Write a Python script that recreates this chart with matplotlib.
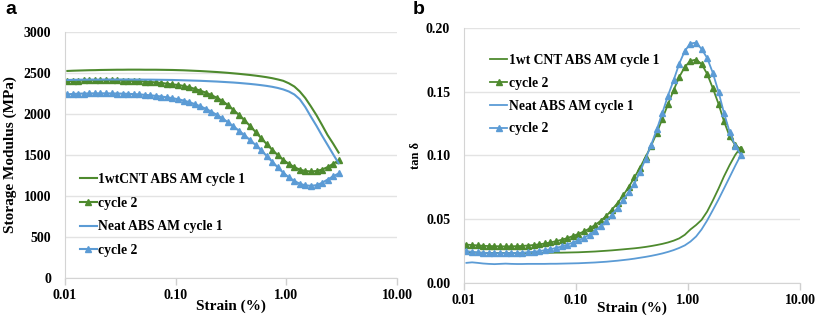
import matplotlib
matplotlib.use("Agg")
import matplotlib.pyplot as plt
from matplotlib.ticker import FixedLocator, FixedFormatter, NullLocator

# strain sweep (%), ~20 points per decade
strain = [0.0105, 0.0118, 0.0132, 0.0148, 0.0166, 0.0187, 0.0209, 0.0235, 0.0264, 0.0296,
          0.0332, 0.0372, 0.0418, 0.0469, 0.0526, 0.0590, 0.0662, 0.0743, 0.0834, 0.0935,
          0.105, 0.118, 0.132, 0.148, 0.166, 0.187, 0.209, 0.235, 0.264, 0.296,
          0.332, 0.372, 0.418, 0.469, 0.526, 0.590, 0.662, 0.743, 0.834, 0.935,
          1.05, 1.18, 1.32, 1.48, 1.66, 1.87, 2.09, 2.35, 2.64, 2.96]

# (a) storage modulus, MPa
cnt_c1_mod = [2525, 2528, 2530, 2532, 2534, 2535, 2537, 2538, 2539, 2540,
              2540, 2541, 2541, 2541, 2540, 2540, 2540, 2539, 2538, 2537,
              2535, 2533, 2530, 2527, 2524, 2520, 2516, 2512, 2507, 2502,
              2496, 2490, 2483, 2476, 2468, 2459, 2449, 2437, 2422, 2405,
              2375, 2335, 2275, 2195, 2095, 1985, 1870, 1745, 1640, 1530]
cnt_c2_mod = [2400, 2405, 2408, 2410, 2411, 2412, 2412, 2412, 2411, 2410,
              2408, 2406, 2403, 2400, 2396, 2391, 2385, 2378, 2370, 2360,
              2355, 2342, 2327, 2308, 2286, 2261, 2232, 2198, 2160, 2108,
              2050, 1990, 1925, 1855, 1782, 1708, 1635, 1565, 1500, 1442,
              1392, 1352, 1322, 1305, 1300, 1305, 1322, 1352, 1392, 1435]
neat_c1_mod = [2415, 2417, 2418, 2419, 2420, 2420, 2420, 2421, 2421, 2421,
               2421, 2421, 2420, 2420, 2419, 2419, 2418, 2417, 2416, 2415,
               2413, 2411, 2409, 2407, 2405, 2402, 2399, 2396, 2392, 2388,
               2384, 2379, 2373, 2367, 2360, 2352, 2343, 2332, 2318, 2300,
               2275, 2238, 2180, 2085, 1970, 1855, 1740, 1625, 1510, 1400]
neat_c2_mod = [2240, 2245, 2248, 2250, 2251, 2252, 2252, 2252, 2251, 2250,
               2248, 2246, 2243, 2239, 2234, 2228, 2221, 2213, 2204, 2193,
               2180, 2164, 2145, 2122, 2095, 2064, 2029, 1990, 1947, 1900,
               1850, 1797, 1741, 1683, 1623, 1561, 1490, 1420, 1350, 1285,
               1228, 1183, 1150, 1130, 1125, 1132, 1160, 1200, 1240, 1275]

# (b) tan delta
cnt_c1_tan = [0.0240, 0.0239, 0.0238, 0.0237, 0.0236, 0.0236, 0.0235, 0.0235, 0.0235, 0.0235,
              0.0235, 0.0235, 0.0236, 0.0236, 0.0237, 0.0237, 0.0238, 0.0238, 0.0239, 0.0240,
              0.0241, 0.0243, 0.0245, 0.0247, 0.0250, 0.0253, 0.0256, 0.0260, 0.0264, 0.0268,
              0.0272, 0.0277, 0.0283, 0.0290, 0.0298, 0.0307, 0.0318, 0.0332, 0.0350, 0.0378,
              0.0420, 0.0455, 0.0495, 0.0560, 0.0645, 0.0740, 0.0835, 0.0925, 0.1005, 0.1065]
cnt_c2_tan = [0.0301, 0.0298, 0.0295, 0.0292, 0.0290, 0.0289, 0.0288, 0.0287, 0.0288, 0.0289,
              0.0291, 0.0294, 0.0298, 0.0303, 0.0310, 0.0318, 0.0328, 0.0339, 0.0352, 0.0368,
              0.0385, 0.0405, 0.0428, 0.0455, 0.0488, 0.0528, 0.0575, 0.0628, 0.0688, 0.0755,
              0.0828, 0.0905, 0.0988, 0.1078, 0.1178, 0.1288, 0.1402, 0.1512, 0.1615, 0.1695,
              0.1742, 0.1752, 0.1718, 0.1640, 0.1530, 0.1405, 0.1270, 0.1150, 0.1080, 0.1050]
neat_c1_tan = [0.0158, 0.0162, 0.0158, 0.0153, 0.0150, 0.0148, 0.0150, 0.0152, 0.0150, 0.0149,
               0.0149, 0.0150, 0.0150, 0.0150, 0.0150, 0.0151, 0.0151, 0.0152, 0.0153, 0.0154,
               0.0155, 0.0157, 0.0159, 0.0161, 0.0164, 0.0167, 0.0171, 0.0175, 0.0180, 0.0185,
               0.0191, 0.0198, 0.0205, 0.0213, 0.0222, 0.0232, 0.0244, 0.0258, 0.0275, 0.0295,
               0.0325, 0.0365, 0.0420, 0.0490, 0.0570, 0.0655, 0.0740, 0.0830, 0.0920, 0.1005]
neat_c2_tan = [0.0250, 0.0245, 0.0240, 0.0237, 0.0235, 0.0234, 0.0234, 0.0234, 0.0235, 0.0236,
               0.0238, 0.0241, 0.0245, 0.0250, 0.0257, 0.0265, 0.0275, 0.0287, 0.0301, 0.0317,
               0.0335, 0.0355, 0.0380, 0.0410, 0.0445, 0.0487, 0.0535, 0.0590, 0.0650, 0.0715,
               0.0780, 0.0870, 0.0975, 0.1085, 0.1205, 0.1335, 0.1470, 0.1590, 0.1720, 0.1820,
               0.1878, 0.1885, 0.1835, 0.1765, 0.1650, 0.1500, 0.1335, 0.1185, 0.1075, 0.1005]

x_ticks = [0.01, 0.1, 1, 10]
x_labels = ["0.01", "0.10", "1.00", "10.00"]
mod_ticks = [0, 500, 1000, 1500, 2000, 2500, 3000]
tan_ticks = [0.0, 0.05, 0.10, 0.15, 0.20]

green = "#4e8a2e"
blue = "#5b9bd5"
grid_c = "#e3e3e3"
serif = "Liberation Serif"
leg_font = {"family": serif, "weight": "bold", "size": 9.8}

fig = plt.figure(figsize=(8.2, 3.2), dpi=100)
ax_a = fig.add_axes([0.0793, 0.131, 0.405, 0.769])
ax_b = fig.add_axes([0.5659, 0.1156, 0.4098, 0.797])


def style(ax, yticks, ylabels):
    ax.set_xscale("log")
    ax.set_xlim(0.01, 10)
    ax.set_ylim(yticks[0], yticks[-1])
    ax.xaxis.set_major_locator(FixedLocator(x_ticks))
    ax.xaxis.set_major_formatter(FixedFormatter(x_labels))
    ax.xaxis.set_minor_locator(NullLocator())
    ax.set_yticks(yticks)
    ax.set_yticklabels(ylabels)
    ax.tick_params(axis="x", length=5, width=1, color="#cfcfcf", pad=3)
    ax.tick_params(axis="y", length=0, pad=10)
    for lab in ax.get_xticklabels() + ax.get_yticklabels():
        lab.set_fontfamily(serif)
        lab.set_fontweight("bold")
        lab.set_fontsize(10)
    ax.grid(axis="y", color=grid_c, linewidth=1)
    ax.set_axisbelow(True)
    for s in ["top", "right"]:
        ax.spines[s].set_visible(False)
    for s in ["left", "bottom"]:
        ax.spines[s].set_color("#d4d4d4")
    ax.set_xlabel("Strain (%)", fontfamily=serif, fontweight="bold", fontsize=11, labelpad=-2)


# panel a
ax_a.plot(strain, cnt_c1_mod, color=green, lw=1.5, label="1wtCNT ABS AM cycle 1")
ax_a.plot(strain, cnt_c2_mod, color=green, lw=1.5, marker="^", ms=5, label="cycle 2")
ax_a.plot(strain, neat_c1_mod, color=blue, lw=1.5, label="Neat ABS AM cycle 1")
ax_a.plot(strain, neat_c2_mod, color=blue, lw=1.5, marker="^", ms=5, label="cycle 2")
style(ax_a, mod_ticks, [str(t) for t in mod_ticks])
ax_a.set_ylabel("Storage Modulus (MPa)", fontfamily=serif, fontweight="bold", fontsize=11, labelpad=5)
ax_a.legend(loc="upper left", bbox_to_anchor=(0.015, 0.465), frameon=False, prop=leg_font,
            handlelength=1.25, handletextpad=0.1, labelspacing=0.78, borderaxespad=0.3)

# panel b
ax_b.plot(strain, cnt_c1_tan, color=green, lw=1.3, label="1wt CNT ABS AM cycle 1")
ax_b.plot(strain, cnt_c2_tan, color=green, lw=1.3, marker="^", ms=5, label="cycle 2")
ax_b.plot(strain, neat_c1_tan, color=blue, lw=1.3, label="Neat ABS AM cycle 1")
ax_b.plot(strain, neat_c2_tan, color=blue, lw=1.3, marker="^", ms=5, label="cycle 2")
style(ax_b, tan_ticks, ["%.2f" % t for t in tan_ticks])
ax_b.xaxis.labelpad = -4
ax_b.set_ylabel("tan δ", fontfamily=serif, fontweight="bold", fontsize=9, labelpad=3)
ax_b.legend(loc="upper left", bbox_to_anchor=(0.05, 0.935), frameon=False, prop=leg_font,
            handlelength=1.25, handletextpad=0.1, labelspacing=0.72, borderaxespad=0.3)

fig.text(0.006, 0.955, "a", fontfamily="Liberation Sans", fontweight="bold", fontsize=14)
fig.text(0.503, 0.955, "b", fontfamily="Liberation Sans", fontweight="bold", fontsize=14)

fig.savefig("out.png", dpi=100)
